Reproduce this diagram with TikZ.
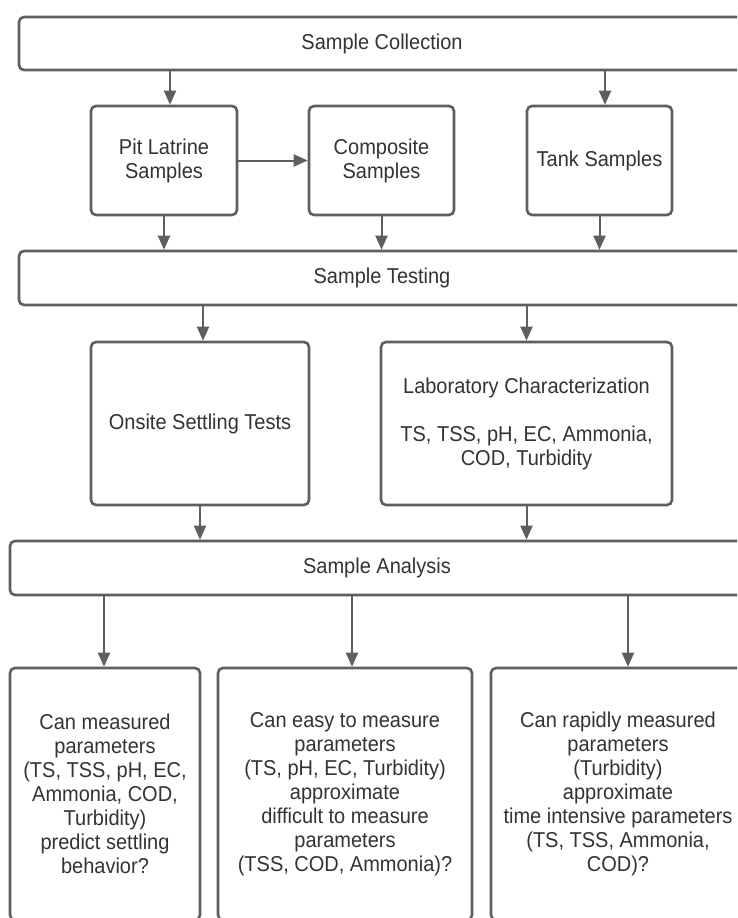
\documentclass[tikz,border=0pt]{standalone}
\usepackage{fontspec}
\setmainfont{Liberation Sans}[FakeStretch=0.93]
\usetikzlibrary{arrows.meta}
\definecolor{ln}{HTML}{5E5E5E}
\definecolor{tx}{HTML}{333333}
\begin{document}
\begin{tikzpicture}[x=1pt,y=-1pt,
 box/.style={draw=ln, line width=2.6pt, rounded corners=5pt, fill=white, text=tx,
   align=center, font=\fontsize{21.5}{24}\selectfont, inner sep=0pt},
 arr/.style={draw=ln, line width=2pt, -{Triangle[length=14pt,width=12pt]}}]
\useasboundingbox (0,0) rectangle (737,918);
\clip (0,0) rectangle (737,918);

\node[box, minimum width=726pt, minimum height=53pt] (coll) at (382,43.5) {Sample Collection};
\node[box, minimum width=146pt, minimum height=109pt] (pit) at (164,160.5) {Pit Latrine\\Samples};
\node[box, minimum width=145pt, minimum height=109pt] (comp) at (381.5,160.5) {Composite\\Samples};
\node[box, minimum width=145pt, minimum height=109pt] (tank) at (599.5,160.5) {Tank Samples};
\node[box, minimum width=726pt, minimum height=54pt] (test) at (382,278) {Sample Testing};
\node[box, minimum width=218pt, minimum height=163pt] (onsite) at (200,423.5) {Onsite Settling Tests};
\node[box, minimum width=291pt, minimum height=163pt] (lab) at (526.5,423.5) {Laboratory Characterization\\[24pt]TS, TSS, pH, EC, Ammonia,\\COD, Turbidity};
\node[box, minimum width=734pt, minimum height=54pt] (ana) at (377,568) {Sample Analysis};
\node[box, minimum width=190pt, minimum height=252pt] (q1) at (105,794) {Can measured\\parameters\\(TS, TSS, pH, EC,\\Ammonia, COD,\\Turbidity)\\predict settling\\behavior?};
\node[box, minimum width=254pt, minimum height=252pt] (q2) at (345,794) {Can easy to measure\\parameters\\(TS, pH, EC, Turbidity)\\approximate\\difficult to measure\\parameters\\(TSS, COD, Ammonia)?};
\node[box, minimum width=254pt, minimum height=252pt] (q3) at (618,794) {Can rapidly measured\\parameters\\(Turbidity)\\approximate\\time intensive parameters\\(TS, TSS, Ammonia,\\COD)?};

\draw[arr] ([xshift=6pt]pit.north |- coll.south) -- ([xshift=6pt]pit.north);
\draw[arr] ([xshift=5.5pt]tank.north |- coll.south) -- ([xshift=5.5pt]tank.north);
\draw[arr] (pit.east) -- (comp.west);
\draw[arr] (pit.south) -- (pit.south |- test.north);
\draw[arr] (comp.south) -- (comp.south |- test.north);
\draw[arr] (tank.south) -- (tank.south |- test.north);
\draw[arr] ([xshift=3pt]onsite.north |- test.south) -- ([xshift=3pt]onsite.north);
\draw[arr] (lab.north |- test.south) -- (lab.north);
\draw[arr] (onsite.south) -- (onsite.south |- ana.north);
\draw[arr] (lab.south) -- (lab.south |- ana.north);
\draw[arr] ([xshift=-1pt]q1.north |- ana.south) -- ([xshift=-1pt]q1.north);
\draw[arr] ([xshift=7pt]q2.north |- ana.south) -- ([xshift=7pt]q2.north);
\draw[arr] ([xshift=10pt]q3.north |- ana.south) -- ([xshift=10pt]q3.north);
\end{tikzpicture}
\end{document}
